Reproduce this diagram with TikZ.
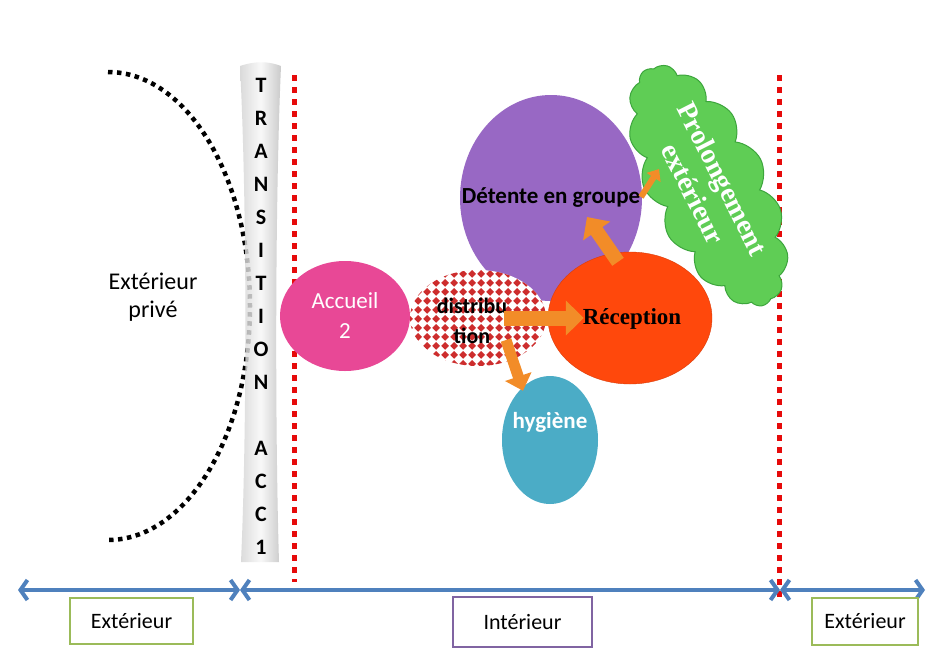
\documentclass[tikz,border=0pt]{standalone}
\usepackage{fontspec}
\setmainfont{Carlito}
\newfontfamily\serifb{Liberation Serif}
\usetikzlibrary{arrows.meta,shapes.geometric,shapes.symbols,patterns,calc}
\definecolor{barblue}{RGB}{79,129,189}
\definecolor{boxgreen}{RGB}{155,187,89}
\definecolor{boxpurple}{RGB}{128,100,162}
\definecolor{dotred}{RGB}{230,10,10}
\definecolor{accpink}{RGB}{232,72,150}
\definecolor{detpurple}{RGB}{152,104,196}
\definecolor{recorange}{RGB}{255,72,12}
\definecolor{hygblue}{RGB}{75,172,198}
\definecolor{prolgreen}{RGB}{95,205,85}
\definecolor{prolgreendark}{RGB}{60,165,60}
\definecolor{arrorange}{RGB}{242,140,40}
\definecolor{checkred}{RGB}{205,45,45}
\pgfdeclarepatternformonly{diamondcheck}{\pgfqpoint{0pt}{0pt}}{\pgfqpoint{9pt}{9pt}}{\pgfqpoint{9pt}{9pt}}{%
 \pgfpathmoveto{\pgfqpoint{4.5pt}{0.25pt}}\pgfpathlineto{\pgfqpoint{8.75pt}{4.5pt}}%
 \pgfpathlineto{\pgfqpoint{4.5pt}{8.75pt}}\pgfpathlineto{\pgfqpoint{0.25pt}{4.5pt}}\pgfpathclose
 \pgfusepath{fill}}
\begin{document}
\begin{tikzpicture}[x=1pt,y=-1pt,
  ell/.style={ellipse, inner sep=0pt},
  reddots/.style={draw=dotred, line width=5pt, dash pattern=on 6pt off 6pt},
  blackdots/.style={draw=black, line width=4.5pt, dash pattern=on 4.5pt off 4.5pt},
  zonearrow/.style={draw=barblue, line width=4pt, {Straight Barb[length=7pt,width=20pt]}-{Straight Barb[length=7pt,width=20pt]}},
  zonebox/.style={draw, line width=1.6pt, fill=white, inner sep=0pt, font=\fontsize{22}{26}\selectfont},
  oarrow/.style={draw=arrorange, line cap=butt},
  fs24/.style={font=\fontsize{24}{28}\selectfont}]
\useasboundingbox (0,0) rectangle (930,665);
\fill[white] (0,0) rectangle (930,665);

% dotted arc (exterieur prive)
\draw[blackdots] (108,72) arc[start angle=-90, end angle=90, x radius=142, y radius=234];
\node[fs24, align=center] (extp) at (153,297) {Extérieur\\privé};

% transition bar
\shade[left color=gray!35, right color=gray!50, middle color=gray!6, opacity=0.82]
  (240,66) .. controls (255,61) and (268,61) .. (281,66)
  .. controls (275,200) and (275,430) .. (279,562) -- (241,562)
  .. controls (247,430) and (247,200) .. (240,66) -- cycle;
\node[align=center, font=\bfseries\fontsize{22}{33}\selectfont] (trans) at (261,316)
  {T\\R\\A\\N\\S\\I\\T\\I\\O\\N\\[33pt]A\\C\\C\\1};

% red dotted limits
\coordinate (r1t) at (294,75); \coordinate (r1b) at (294,582);
\coordinate (r2t) at (779,75); \coordinate (r2b) at (779,600);
\draw[reddots] (r1t) -- (r1b);
\draw[reddots] (r2t) -- (r2b);

% nodes
\node[ell, fill=detpurple, minimum width=182pt, minimum height=206pt] (det) at (551,198) {};
\node[font=\bfseries\fontsize{23}{26}\selectfont] (dett) at (det.center) {Détente en groupe};
\node[cloud, cloud puffs=15, cloud puff arc=115, cloud ignores aspect,
  minimum width=264pt, minimum height=118pt, rotate=-63,
  fill=prolgreen, draw=prolgreendark, line width=1pt, align=center,
  text=white, font=\serifb\bfseries\fontsize{28}{33}\selectfont] (prol) at (708,186)
  {Prolongement\\extérieur};
\node[ell, fill=accpink, minimum width=130pt, minimum height=110pt] (acc) at (345,316) {};
\node[align=center, text=white, font=\fontsize{23}{30}\selectfont] (acct) at (acc.center) {Accueil\\2};
\node[ell, fill=hygblue, minimum width=96pt, minimum height=128pt] (hyg) at (550,440) {};
\node[text=white, font=\bfseries\fontsize{23}{26}\selectfont] (hygt) at ($(hyg.center)+(0,-18)$) {hygiène};
\node[ell, fill=recorange, draw=recorange!85!black, minimum width=164pt, minimum height=132pt] (rec) at (630,318) {};
\node[font=\serifb\bfseries\fontsize{23}{26}\selectfont] (rect) at ($(rec.center)+(2,1)$) {Réception};
\node[ell, fill=white, minimum width=136pt, minimum height=96pt] (distbg) at (478,318) {};
\node[ell, pattern=diamondcheck, pattern color=checkred, minimum width=136pt, minimum height=96pt] (dist) at (478,318) {};
\node[align=center, font=\bfseries\fontsize{22}{30}\selectfont] (distt) at ($(dist.center)+(-6,3)$) {distribu\\tion};

% orange arrows
\draw[oarrow, line width=15pt, -{Triangle[length=18pt,width=34pt]}]
  ($(dist.east)+(-42,0)$) -- ($(rec.west)+(36,0)$);
\draw[oarrow, line width=11pt, -{Triangle[length=15pt,width=27pt]}]
  ($(dist.center)+(28,22)$) -- ($(hyg.north)+(-27,15)$);
\draw[oarrow, line width=14pt, -{Triangle[length=17pt,width=32pt]}]
  ($(rec.north)+(-12,10)$) -- ($(det.center)+(36,19)$);
\draw[oarrow, line width=6pt, -{Triangle[length=10pt,width=16pt]}]
  ($(det.center)+(90,-1)$) -- ($(det.center)+(108,-29)$);

% zone arrows
\coordinate (b0) at (18,590);
\coordinate (b1) at (240,590);
\coordinate (b2) at (780,590);
\coordinate (b3) at (925,590);
\draw[zonearrow] (b0) -- (b1);
\draw[zonearrow] (b1) -- (b2);
\draw[zonearrow] (b2) -- (b3);

\node[zonebox, draw=boxgreen, minimum width=123pt, minimum height=46pt] (ext1) at (131.5,621) {Extérieur};
\node[zonebox, draw=boxpurple, minimum width=139pt, minimum height=50pt] (int) at (522.5,622) {Intérieur};
\node[zonebox, draw=boxgreen, minimum width=106pt, minimum height=47pt] (ext2) at (865,621.5) {Extérieur};
\end{tikzpicture}
\end{document}
